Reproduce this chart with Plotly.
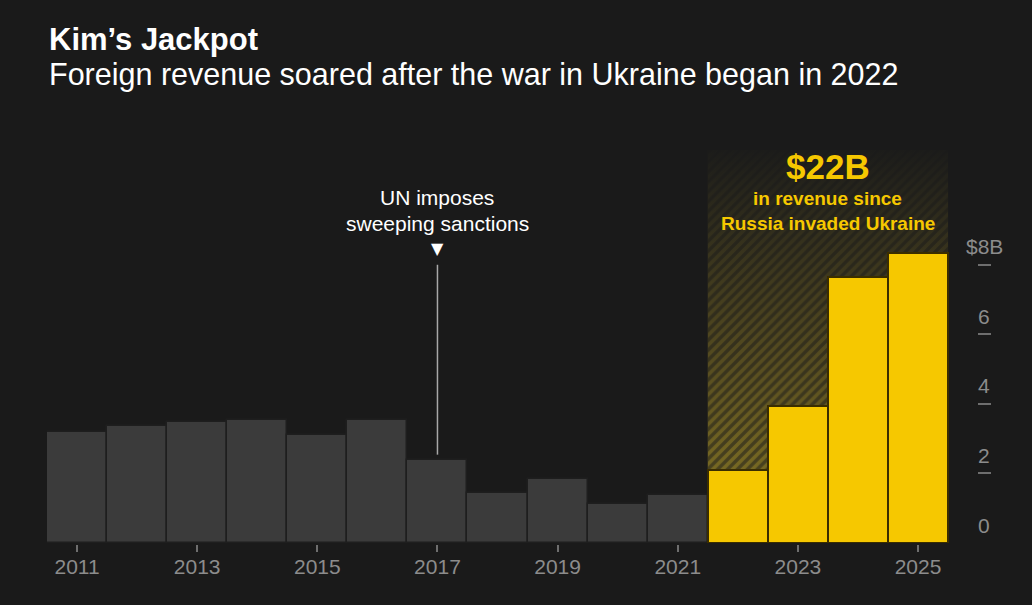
import plotly.graph_objects as go

# revenue in $ billions
years = list(range(2011, 2026))
revenue = [3.19, 3.35, 3.49, 3.54, 3.11, 3.53, 2.39, 1.45, 1.83, 1.12, 1.38,
           2.09, 3.95, 7.66, 8.34]
war_start = 2022
sanction_year = 2017

x_ticks = [2011, 2013, 2015, 2017, 2019, 2021, 2023, 2025]
y_ticks = [0, 2, 4, 6, 8]
y_tick_text = ["0", "2", "4", "6", "$8B"]

BG = "#1a1a1a"
GRAY_BAR = "#3b3b3b"
YELLOW = "#f6c800"
AXIS = "#6e6e6e"
TICK_TXT = "#8c8c8c"
FONT = "Liberation Sans"

pre_x = [y for y in years if y < war_start]
pre_v = [v for y, v in zip(years, revenue) if y < war_start]
war_x = [y for y in years if y >= war_start]
war_v = [v for y, v in zip(years, revenue) if y >= war_start]

Y_MAX = 11.3
hx0, hx1 = min(war_x) - 0.5, max(war_x) + 0.5

fig = go.Figure()

# shaded region behind the war years: gradient, then hatch on top
fig.add_trace(go.Scatter(
    x=[hx0, hx1, hx1, hx0, hx0], y=[0, 0, Y_MAX, Y_MAX, 0],
    mode="none", fill="toself", hoverinfo="skip", showlegend=False,
    zorder=-2,
    fillgradient=dict(type="vertical",
                      colorscale=[[0, "#8c7b24"], [0.45, "#574d20"], [1, "#1c1c1a"]]),
))
fig.add_trace(go.Scatter(
    x=[hx0, hx1, hx1, hx0, hx0], y=[0, 0, Y_MAX, Y_MAX, 0],
    mode="none", fill="toself", hoverinfo="skip", showlegend=False,
    zorder=-1,
    fillcolor="rgba(0,0,0,0)",
    fillpattern=dict(shape="/", fgcolor=BG, bgcolor="rgba(0,0,0,0)",
                     size=7, solidity=0.5),
))

fig.add_trace(go.Bar(
    x=pre_x, y=pre_v, width=1, showlegend=False, zorder=1,
    marker=dict(color=GRAY_BAR, line=dict(color="#1e1e1e", width=1.5)),
))
fig.add_trace(go.Bar(
    x=war_x, y=war_v, width=1, showlegend=False, zorder=1,
    marker=dict(color=YELLOW, line=dict(color="#3a2d00", width=2)),
))

# sanctions marker line
sanction_v = revenue[years.index(sanction_year)]
fig.add_shape(type="line", x0=sanction_year, x1=sanction_year,
              y0=sanction_v + 0.15, y1=8.0,
              line=dict(color="#a8a8a8", width=1.5))

ML, MR, MT, MB = 47, 41, 150, 62
W, H = 1032, 605
plot_h = H - MT - MB
plot_w = W - ML - MR


def py(pix):
    return (H - MB - pix) / plot_h


def px(pix):
    return (pix - ML) / plot_w


annotations = [
    dict(text="<b>Kim’s Jackpot</b>", xref="paper", yref="paper",
         x=px(47), y=py(39), xanchor="left", yanchor="middle",
         font=dict(size=31, color="white", family=FONT)),
    dict(text="Foreign revenue soared after the war in Ukraine began in 2022",
         xref="paper", yref="paper", x=px(47), y=py(74),
         xanchor="left", yanchor="middle",
         font=dict(size=30.5, color="white", family=FONT)),
    dict(text="UN imposes", x=sanction_year, y=9.93,
         font=dict(size=21, color="white", family=FONT)),
    dict(text="sweeping sanctions", x=sanction_year, y=9.2,
         font=dict(size=21, color="white", family=FONT)),
    dict(text="▼", x=sanction_year, y=8.46,
         font=dict(size=16, color="white", family="DejaVu Sans")),
    dict(text="<b>$22B</b>", x=(hx0 + hx1) / 2, y=10.84,
         font=dict(size=35, color=YELLOW, family=FONT)),
    dict(text="<b>in revenue since</b>", x=(hx0 + hx1) / 2, y=9.9,
         font=dict(size=19, color=YELLOW, family=FONT)),
    dict(text="<b>Russia invaded Ukraine</b>", x=(hx0 + hx1) / 2, y=9.2,
         font=dict(size=19, color=YELLOW, family=FONT)),
]
for v, t in zip(y_ticks, y_tick_text):
    annotations.append(dict(text=t, xref="paper", x=px(984), y=v, yshift=18,
                            xanchor="center",
                            font=dict(size=21, color=TICK_TXT, family=FONT)))
for a in annotations:
    a.setdefault("showarrow", False)
    a.setdefault("yanchor", "middle")

fig.update_layout(
    width=W, height=H,
    margin=dict(l=ML, r=MR, t=MT, b=MB),
    paper_bgcolor=BG, plot_bgcolor=BG,
    barmode="overlay", bargap=0,
    font=dict(family=FONT, color=TICK_TXT),
    annotations=annotations,
    xaxis=dict(range=[2010.5, 2010.5 + plot_w / 60.07], tickvals=x_ticks,
               showgrid=False, zeroline=False,
               showline=True, linecolor=AXIS, linewidth=2,
               ticks="outside", ticklen=7, tickwidth=2, tickcolor=AXIS,
               ticklabelstandoff=-3,
               tickfont=dict(size=21, color=TICK_TXT, family=FONT)),
    yaxis=dict(range=[0, Y_MAX], tickvals=y_ticks, side="right",
               showgrid=False, zeroline=False, showline=False,
               ticks="inside", ticklen=13, tickwidth=2, tickcolor=AXIS,
               showticklabels=False),
)

fig.write_html(
    "out.html",
    config={"displayModeBar": False},
    post_script="document.body.style.margin='0';"
                "document.body.style.overflow='hidden';"
                "document.body.style.background='%s';" % BG,
)
